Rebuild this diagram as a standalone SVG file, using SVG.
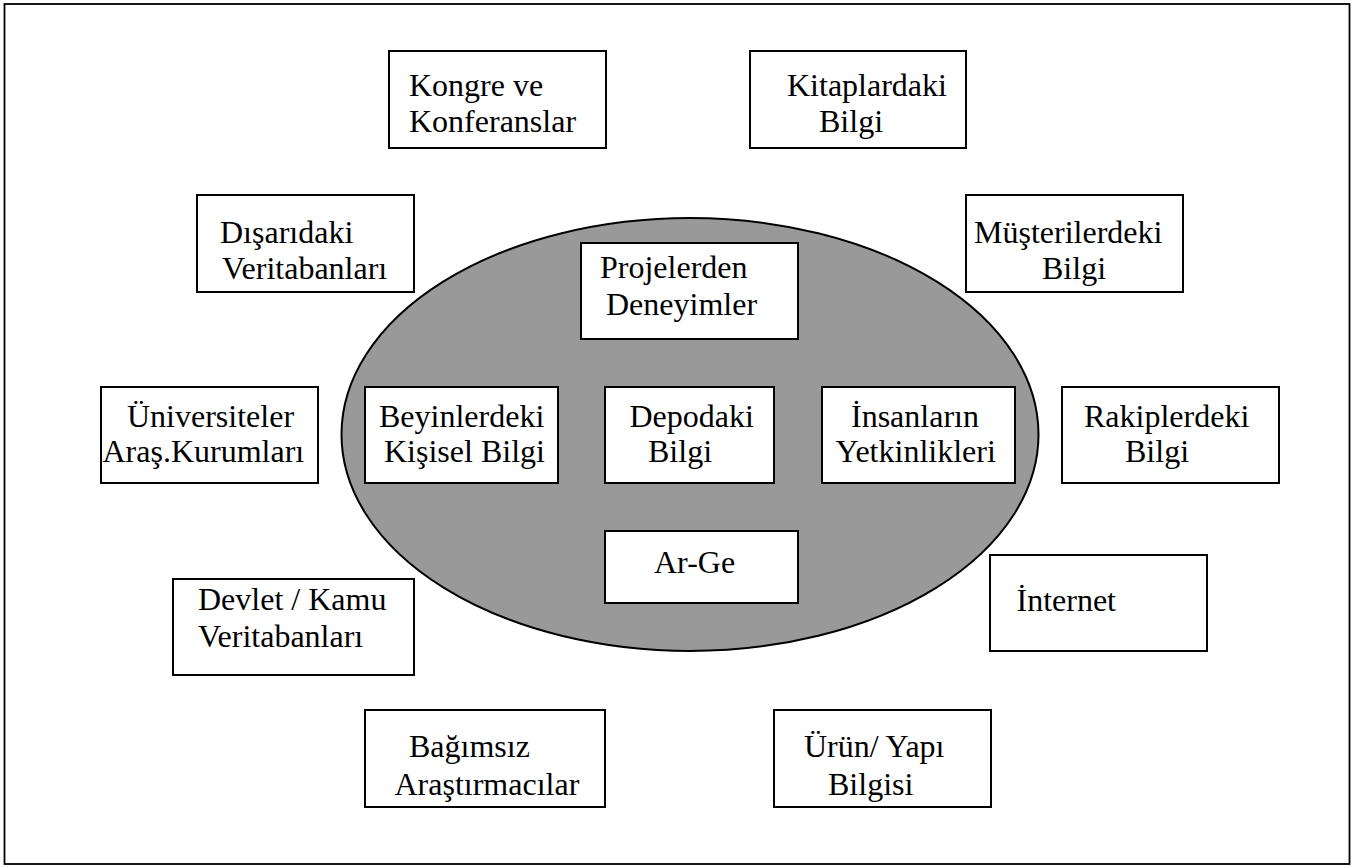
<svg xmlns="http://www.w3.org/2000/svg" width="1361" height="868" viewBox="0 0 1361 868">
<style>
.bx{fill:#fff;stroke:#000;stroke-width:2}
.t{font-family:"Liberation Serif","Times New Roman",serif;font-size:32px;fill:#000}
</style>
<rect x="0" y="0" width="1361" height="868" fill="#fff"/>
<rect id="frame" x="4.5" y="4" width="1345" height="860" fill="#fff" stroke="#000" stroke-width="1.8"/>
<g id="connectors"></g>
<g id="core">
<ellipse cx="690" cy="434.5" rx="348.5" ry="216.5" fill="#999999" stroke="#000" stroke-width="2"/>
</g>
<g id="kongre"><rect class="bx" x="389" y="51" width="217" height="97"/><text class="t" x="409" y="95.5">Kongre ve</text><text class="t" x="409" y="132">Konferanslar</text></g>
<g id="kitap"><rect class="bx" x="750" y="51" width="216" height="97"/><text class="t" x="787" y="95.5">Kitaplardaki</text><text class="t" x="819" y="132">Bilgi</text></g>
<g id="disari"><rect class="bx" x="197" y="195" width="217" height="97"/><text class="t" x="220" y="242.5">Dışarıdaki</text><text class="t" x="222" y="279">Veritabanları</text></g>
<g id="musteri"><rect class="bx" x="966" y="195" width="217" height="97"/><text class="t" x="974" y="243">Müşterilerdeki</text><text class="t" x="1042" y="279">Bilgi</text></g>
<g id="projeler"><rect class="bx" x="581" y="243" width="217" height="96"/><text class="t" x="600" y="278">Projelerden</text><text class="t" x="606" y="315">Deneyimler</text></g>
<g id="univ"><rect class="bx" x="101" y="387" width="217" height="96"/><text class="t" x="127" y="426.5">Üniversiteler</text><text class="t" x="102.5" y="461.5">Araş.Kurumları</text></g>
<g id="beyin"><rect class="bx" x="365" y="387" width="193" height="96"/><text class="t" x="379" y="426.5">Beyinlerdeki</text><text class="t" x="384" y="461.5">Kişisel Bilgi</text></g>
<g id="depo"><rect class="bx" x="605" y="387" width="169" height="96"/><text class="t" x="629.5" y="426.5">Depodaki</text><text class="t" x="648" y="461.5">Bilgi</text></g>
<g id="insan"><rect class="bx" x="822" y="387" width="193" height="96"/><text class="t" x="851" y="426.5">İnsanların</text><text class="t" x="835.5" y="461.5">Yetkinlikleri</text></g>
<g id="rakip"><rect class="bx" x="1062" y="387" width="217" height="96"/><text class="t" x="1084" y="426.5">Rakiplerdeki</text><text class="t" x="1125" y="461.5">Bilgi</text></g>
<g id="arge"><rect class="bx" x="605" y="531" width="193" height="72"/><text class="t" x="654" y="572.5">Ar-Ge</text></g>
<g id="devlet"><rect class="bx" x="173" y="579" width="241" height="96"/><text class="t" x="198" y="610">Devlet / Kamu</text><text class="t" x="198" y="647">Veritabanları</text></g>
<g id="internet"><rect class="bx" x="990" y="555" width="217" height="96"/><text class="t" x="1016.5" y="610.5">İnternet</text></g>
<g id="bagimsiz"><rect class="bx" x="365" y="710" width="240" height="97"/><text class="t" x="409" y="757">Bağımsız</text><text class="t" x="394.5" y="795">Araştırmacılar</text></g>
<g id="urun"><rect class="bx" x="774" y="710" width="217" height="97"/><text class="t" x="804" y="757">Ürün/ Yapı</text><text class="t" x="828" y="795">Bilgisi</text></g>
</svg>
